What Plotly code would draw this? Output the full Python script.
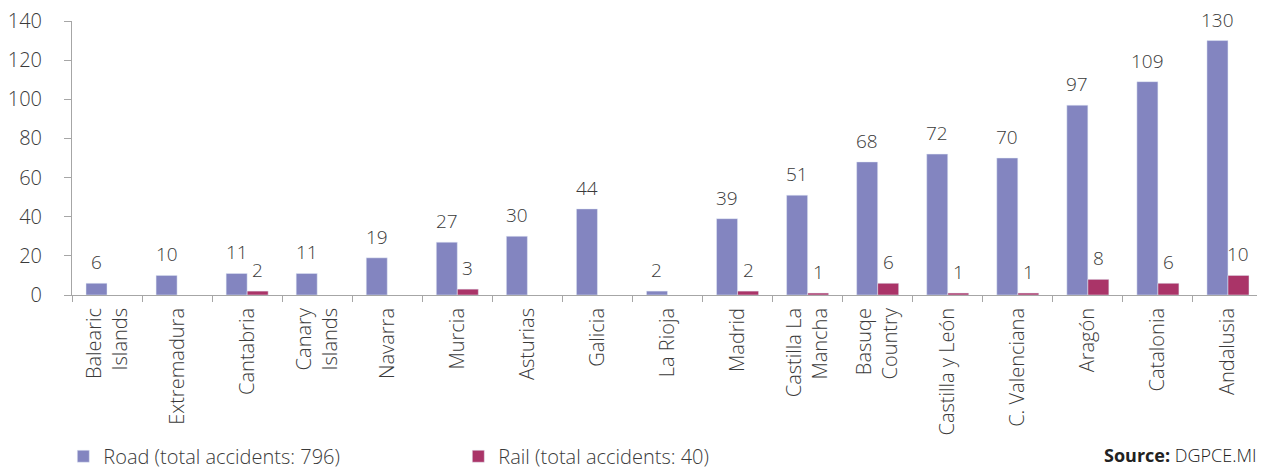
import plotly.graph_objects as go

regions = ["Balearic<br>Islands", "Extremadura", "Cantabria", "Canary<br>Islands", "Navarra",
           "Murcia", "Asturias", "Galicia", "La Rioja", "Madrid", "Castilla La<br>Mancha",
           "Basuqe<br>Country", "Castilla y León", "C. Valenciana", "Aragón", "Catalonia", "Andalusia"]
road = [6, 10, 11, 11, 19, 27, 30, 44, 2, 39, 51, 68, 72, 70, 97, 109, 130]
rail = [0, 0, 2, 0, 0, 3, 0, 0, 0, 2, 1, 6, 1, 1, 8, 6, 10]
road_name = "Road (total accidents: 796)"
rail_name = "Rail (total accidents: 40)"
yticks = [0, 20, 40, 60, 80, 100, 120, 140]

ROAD_C = "#8385C0"
RAIL_C = "#AA3468"
TXT = "#3a3a3a"
FONT = "Open Sans"

fig = go.Figure()
fig.add_trace(go.Bar(x=regions, y=road, name=road_name, marker_color=ROAD_C))
fig.add_trace(go.Bar(x=regions, y=[v if v else None for v in rail], name=rail_name, marker_color=RAIL_C))

lblfont = dict(family=FONT, size=19, color=TXT, weight=300)
ann = []
for i, v in enumerate(road):
    ann.append(dict(x=i - 0.15, y=v, text=str(v), xref="x", yref="y", showarrow=False,
                    yanchor="bottom", yshift=6, font=lblfont))
for i, v in enumerate(rail):
    if v:
        ann.append(dict(x=i + 0.15, y=v, text=str(v), xref="x", yref="y", showarrow=False,
                        yanchor="bottom", yshift=6, font=lblfont))
ann.append(dict(x=1.0, y=0, xref="paper", yref="paper", xanchor="right", yanchor="bottom",
                yshift=-174, xshift=-4, showarrow=False, text="<b>Source:</b> DGPCE.MI",
                font=dict(family=FONT, size=18, color="#222222")))

fig.update_layout(
    width=1257, height=462,
    margin=dict(l=64, r=2, t=13, b=175, autoexpand=False),
    plot_bgcolor="white", paper_bgcolor="white",
    barmode="group", bargap=0.4, bargroupgap=0,
    font=dict(family=FONT, color=TXT, weight=300),
    showlegend=True,
    legend=dict(orientation="h", xref="container", x=0.044, xanchor="left",
                y=0.072, yref="container", yanchor="top",
                entrywidth=350, entrywidthmode="pixels",
                font=dict(family=FONT, size=20, color=TXT, weight=300)),
    annotations=ann,
)
fig.update_xaxes(showline=True, linecolor="#a6a6a6", linewidth=1, ticks="outside", ticklen=6,
                 tickcolor="#a6a6a6", tickson="boundaries", tickangle=-90, automargin=False,
                 ticklabelstandoff=4,
                 tickfont=dict(family=FONT, size=20, color=TXT, weight=300), showgrid=False)
fig.update_yaxes(range=[0, 140], tickvals=yticks, showline=True, linecolor="#a6a6a6", linewidth=1,
                 ticks="outside", ticklen=7, tickcolor="#a6a6a6", showgrid=False, zeroline=False,
                 automargin=False, ticklabelstandoff=18, ticklabeloverflow="allow",
                 tickfont=dict(family=FONT, size=20, color=TXT, weight=300))

fig.write_html("out.html")
